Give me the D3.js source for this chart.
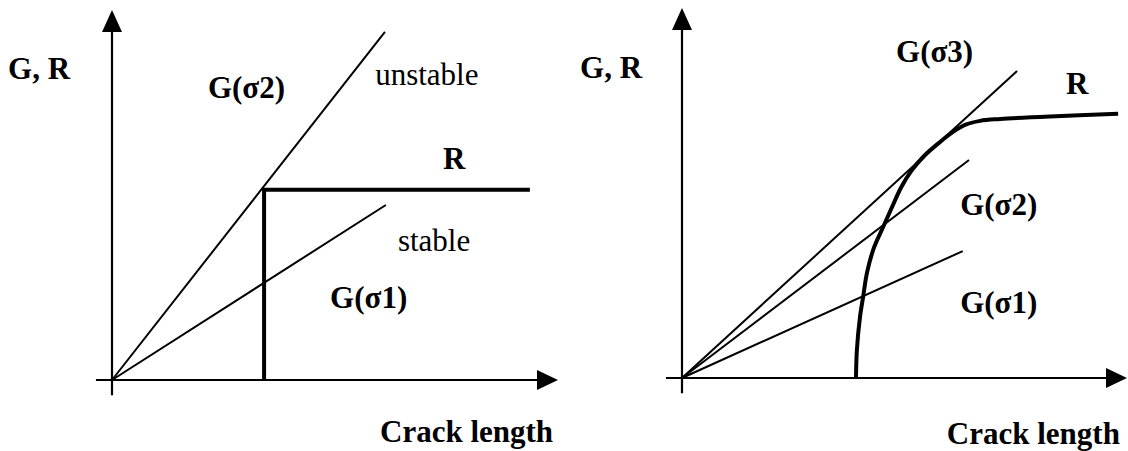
<!DOCTYPE html>
<html>
<head>
<meta charset="utf-8">
<script src="https://cdn.jsdelivr.net/npm/d3@7"></script>
<style>
  html, body { margin: 0; padding: 0; background: #fff; }
  svg { display: block; }
</style>
</head>
<body>
<div class="chart"></div>
<script>
// ======= G-R CURVES: FLAT R (left) vs RISING R-CURVE (right) ===========
// both panels use arbitrary units 0..100 on each axis

// left panel: G lines from the origin, given by their far end point
const leftG = [
  { name: 'G(σ2)', end: [61.2, 94.1] },
  { name: 'G(σ1)', end: [61.4, 47.3] }
]
// flat R: jumps up at the initial crack length then stays constant
const leftR = [[34.1, 0], [34.1, 51.4], [93.7, 51.4]]

// right panel
const rightG = [
  { name: 'G(σ3)', end: [75.3, 83.0] },
  { name: 'G(σ2)', end: [64.5, 58.9] },
  { name: 'G(σ1)', end: [63.1, 34.3] }
]
const rightR = [
  [39.1, 0], [39.3, 7.6], [40.0, 16.5], [40.7, 21.9], [41.6, 28.6],
  [43.1, 35.1], [45.2, 40.8], [47.2, 46.2], [49.2, 51.4], [51.5, 55.9],
  [54.4, 60.0], [58.0, 63.8], [60.9, 66.5], [63.6, 68.4], [67.0, 69.5],
  [71.5, 70.0], [82.7, 70.7], [98.0, 71.4]
]

// text annotations, anchored in data units
const leftLabels = [
  { text: 'G, R', at: [-23.3, 81.4], bold: true },
  { text: 'G(σ2)', at: [21.5, 76.2], bold: true },
  { text: 'unstable', at: [59.0, 79.7], bold: false },
  { text: 'R', at: [74.2, 57.0], bold: true },
  { text: 'stable', at: [64.1, 34.9], bold: false },
  { text: 'G(σ1)', at: [48.9, 19.5], bold: true },
  { text: 'Crack length', at: [98.9, -16.8], bold: true, end: true }
]
const rightLabels = [
  { text: 'G, R', at: [-22.9, 81.1], bold: true },
  { text: 'G(σ3)', at: [48.1, 85.4], bold: true },
  { text: 'R', at: [86.3, 76.8], bold: true },
  { text: 'G(σ2)', at: [62.5, 44.1], bold: true },
  { text: 'G(σ1)', at: [62.5, 17.6], bold: true },
  { text: 'Crack length', at: [98.4, -17.8], bold: true, end: true }
]

const width = 1128
const height = 451

const svg = d3.select('.chart')
  .append('svg')
    .attr('width', width)
    .attr('height', height)

// draw one panel; xr/yr are the pixel ranges of the 0..100 domain
const panel = (xr, yr, gLines, rPts, labels, curved) => {
  const x = d3.scaleLinear().domain([0, 100]).range(xr)
  const y = d3.scaleLinear().domain([0, 100]).range(yr)
  const g = svg.append('g')

  // axes: plain lines crossing a little past the origin + arrow heads
  g.append('line')
    .attr('x1', x(-3.6)).attr('y1', y(0))
    .attr('x2', x(100) - 10).attr('y2', y(0))
    .attr('stroke', '#000').attr('stroke-width', 2.2)
  g.append('line')
    .attr('x1', x(0)).attr('y1', y(-4.1))
    .attr('x2', x(0)).attr('y2', y(100) + 10)
    .attr('stroke', '#000').attr('stroke-width', 2.2)

  const tx = x(100), ty = y(0)
  g.append('path')
    .attr('d', `M${tx},${ty} L${tx - 21},${ty - 10} L${tx - 21},${ty + 10} Z`)
    .attr('fill', '#000')
  const ux = x(0), uy = y(100)
  g.append('path')
    .attr('d', `M${ux},${uy} L${ux - 10},${uy + 22} L${ux + 10},${uy + 22} Z`)
    .attr('fill', '#000')

  // G lines
  g.selectAll('.gline')
    .data(gLines)
    .join('line')
      .attr('class', 'gline')
      .attr('x1', x(0)).attr('y1', y(0))
      .attr('x2', d => x(d.end[0]))
      .attr('y2', d => y(d.end[1]))
      .attr('stroke', '#000')
      .attr('stroke-width', 2)

  // R curve
  const line = d3.line()
    .x(d => x(d[0]))
    .y(d => y(d[1]))
    .curve(curved ? d3.curveCatmullRom.alpha(0.5) : d3.curveLinear)
  g.append('path')
    .attr('d', line(rPts))
    .attr('fill', 'none')
    .attr('stroke', '#000')
    .attr('stroke-width', 4)
    .attr('stroke-linejoin', 'miter')

  g.selectAll('.lbl')
    .data(labels)
    .join('text')
      .attr('class', 'lbl')
      .attr('x', d => x(d.at[0]))
      .attr('y', d => y(d.at[1]))
      .attr('text-anchor', d => d.end ? 'end' : 'start')
      .style('font-family', '"Liberation Serif"')
      .style('font-size', '31px')
      .style('font-weight', d => d.bold ? 'bold' : 'normal')
      .attr('fill', '#000')
      .text(d => d.text)
}

panel([112, 558], [380, 10], leftG, leftR, leftLabels, false)
panel([682, 1127], [378, 8], rightG, rightR, rightLabels, true)
</script>
</body>
</html>
